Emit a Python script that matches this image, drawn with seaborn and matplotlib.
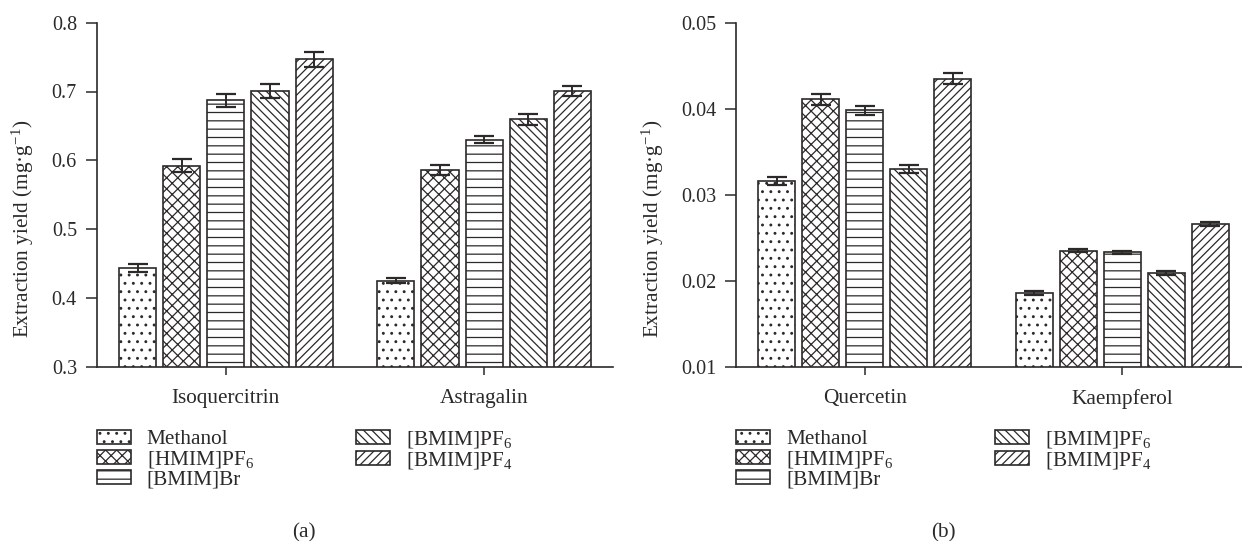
import matplotlib
matplotlib.use("Agg")
import matplotlib.pyplot as plt
import numpy as np
import pandas as pd
import seaborn as sns

# ---- data -------------------------------------------------------------
solvents = ["Methanol", "[HMIM]PF$_6$", "[BMIM]Br", "[BMIM]PF$_6$", "[BMIM]PF$_4$"]
hatches = ["..", "xxx", "--", "\\\\\\\\", "////"]

compounds_a = ["Isoquercitrin", "Astragalin"]
isoquercitrin = [0.443, 0.592, 0.687, 0.701, 0.747]
isoquercitrin_err = [0.006, 0.0095, 0.010, 0.010, 0.011]
astragalin = [0.425, 0.586, 0.630, 0.660, 0.701]
astragalin_err = [0.004, 0.007, 0.005, 0.008, 0.007]

compounds_b = ["Quercetin", "Kaempferol"]
quercetin = [0.0316, 0.0411, 0.0398, 0.0330, 0.0435]
quercetin_err = [0.00045, 0.00065, 0.00055, 0.00045, 0.00065]
kaempferol = [0.0186, 0.0235, 0.0233, 0.0209, 0.0266]
kaempferol_err = [0.00022, 0.00022, 0.00020, 0.00025, 0.00025]

yticks_a = [0.3, 0.4, 0.5, 0.6, 0.7, 0.8]
yticks_b = [0.01, 0.02, 0.03, 0.04, 0.05]

# ---- style ------------------------------------------------------------
INK = "#2b2a29"
sns.set_style("ticks")
plt.rcParams["font.family"] = ["Liberation Serif", "DejaVu Serif"]
plt.rcParams["mathtext.fontset"] = "custom"
plt.rcParams["mathtext.rm"] = "Liberation Serif"
plt.rcParams["mathtext.it"] = "Liberation Serif:italic"
plt.rcParams["hatch.linewidth"] = 0.9
plt.rcParams["text.color"] = INK
plt.rcParams["axes.labelcolor"] = INK
plt.rcParams["xtick.color"] = INK
plt.rcParams["ytick.color"] = INK
FS_TICK = 14.5
FS = 15.3


def make_frame(compounds, series, errors):
    rows = []
    for comp, vals, errs in zip(compounds, series, errors):
        for solv, v, e in zip(solvents, vals, errs):
            rows.append({"compound": comp, "solvent": solv, "value": v, "err": e})
    return pd.DataFrame(rows)


def draw_panel(ax, df, compounds, yticks, xlim):
    sns.barplot(
        data=df, x="compound", y="value", hue="solvent",
        order=compounds, hue_order=solvents,
        palette={s: "white" for s in solvents},
        errorbar=None, width=0.855, gap=0.16,
        edgecolor=INK, linewidth=1.2, legend=False, ax=ax,
    )
    bar_containers = list(ax.containers)
    for hatch, cont, solv in zip(hatches, bar_containers, solvents):
        sub = df[df["solvent"] == solv].set_index("compound").loc[compounds]
        xs = []
        for patch in cont.patches:
            patch.set_hatch(hatch)
            patch.set_edgecolor(INK)
            xs.append(patch.get_x() + patch.get_width() / 2)
        ax.errorbar(xs, sub["value"].values, yerr=sub["err"].values, fmt="none",
                    ecolor=INK, elinewidth=1.4, capsize=7.2, capthick=1.6, zorder=5)
    ax.set_ylim(yticks[0], yticks[-1])
    ax.set_yticks(yticks)
    ax.set_xlim(*xlim)
    ax.set_xlabel("")
    ax.set_ylabel("Extraction yield (mg·g$^{-1}$)", fontsize=FS)
    sns.despine(ax=ax)
    for sp in ("left", "bottom"):
        ax.spines[sp].set_color(INK)
        ax.spines[sp].set_linewidth(1.2)
    ax.tick_params(axis="y", length=7.7, width=1.1, pad=6.5, labelsize=FS_TICK)
    ax.tick_params(axis="x", length=6, width=1.1, pad=10, labelsize=FS)
    ax.legend(
        handles=bar_containers, labels=solvents, ncol=2, frameon=False,
        fontsize=FS, loc="upper left", bbox_to_anchor=(0.0, -0.18),
        borderaxespad=0, borderpad=0, handlelength=1.6, handleheight=0.62,
        handletextpad=0.75, columnspacing=4.8, labelspacing=0.0,
    )


fig = plt.figure(figsize=(12.42, 5.41), dpi=100)
ax_a = fig.add_axes([96.7 / 1242, 1 - 366.7 / 541, 516.6 / 1242, 344 / 541])
ax_b = fig.add_axes([736 / 1242, 1 - 366.7 / 541, 506 / 1242, 344 / 541])

df_a = make_frame(compounds_a, [isoquercitrin, astragalin], [isoquercitrin_err, astragalin_err])
df_b = make_frame(compounds_b, [quercetin, kaempferol], [quercetin_err, kaempferol_err])

draw_panel(ax_a, df_a, compounds_a, yticks_a, (-0.5, 1.5))
draw_panel(ax_b, df_b, compounds_b, yticks_b, (-0.5, 1.465))
ax_a.yaxis.set_label_coords(-0.117, 0.40)
ax_b.yaxis.set_label_coords(-0.138, 0.40)

fig.text(304 / 1242, 1 - 533 / 541, "(a)", ha="center", va="center", fontsize=FS)
fig.text(943 / 1242, 1 - 533 / 541, "(b)", ha="center", va="center", fontsize=FS)

fig.savefig("out.png", dpi=100)
